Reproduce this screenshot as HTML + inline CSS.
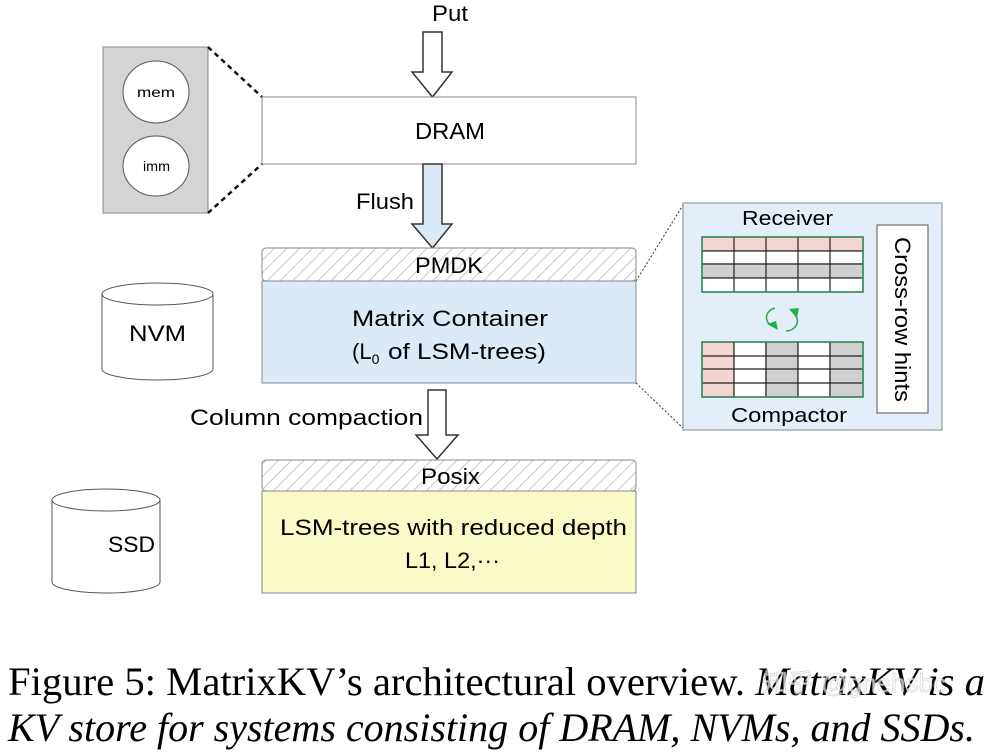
<!DOCTYPE html>
<html><head><meta charset="utf-8"><style>
html,body{margin:0;padding:0;background:#fff;}
svg{display:block;}
</style></head><body>
<svg width="996" height="752" viewBox="0 0 996 752" xmlns="http://www.w3.org/2000/svg" font-family="'Liberation Sans', sans-serif">
<defs>
<pattern id="hatch" patternUnits="userSpaceOnUse" width="9" height="9" patternTransform="rotate(45)">
<rect width="9" height="9" fill="#fff"/>
<line x1="0" y1="0" x2="0" y2="9" stroke="#c8c8c8" stroke-width="2"/>
</pattern>
</defs>
<rect x="103" y="47" width="105" height="166" fill="#d4d4d4" stroke="#888"/>
<ellipse cx="156" cy="92" rx="33" ry="31" fill="#fff" stroke="#555"/>
<text x="137" y="97" font-size="14" textLength="38" lengthAdjust="spacingAndGlyphs">mem</text>
<ellipse cx="156" cy="166" rx="33" ry="30" fill="#fff" stroke="#555"/>
<text x="143" y="171" font-size="14" textLength="27" lengthAdjust="spacingAndGlyphs">imm</text>
<line x1="208" y1="47" x2="262" y2="97" stroke="#111" stroke-width="2.5" stroke-dasharray="5,4"/>
<line x1="208" y1="213" x2="262" y2="164" stroke="#111" stroke-width="2.5" stroke-dasharray="5,4"/>
<text x="432" y="21" font-size="22" textLength="36" lengthAdjust="spacingAndGlyphs">Put</text>
<polygon points="423,32 442,32 442,72 452,72 432.5,97 412,72 423,72" fill="#fff" stroke="#333" stroke-width="1.5"/>
<rect x="262" y="97" width="374" height="67" fill="#fff" stroke="#888"/>
<text x="415" y="139" font-size="23" textLength="70" lengthAdjust="spacingAndGlyphs">DRAM</text>
<text x="356" y="209" font-size="22" textLength="58" lengthAdjust="spacingAndGlyphs">Flush</text>
<polygon points="423,164 442,164 442,224 452,224 432.5,248 412,224 423,224" fill="#dce9f7" stroke="#333" stroke-width="1.5"/>
<rect x="262" y="248" width="374" height="33" rx="4" fill="url(#hatch)" stroke="#888"/>
<text x="415" y="273" font-size="22" textLength="68" lengthAdjust="spacingAndGlyphs">PMDK</text>
<rect x="262" y="281" width="374" height="102" fill="#dce9f7" stroke="#888"/>
<text x="352" y="326" font-size="22" textLength="196" lengthAdjust="spacingAndGlyphs">Matrix Container</text>
<text x="352" y="359" font-size="22">(L<tspan font-size="14" dy="5">0</tspan></text>
<text x="388" y="359" font-size="22" textLength="158" lengthAdjust="spacingAndGlyphs">of LSM-trees)</text>
<line x1="636" y1="281" x2="683" y2="205" stroke="#333" stroke-dasharray="2,2"/>
<line x1="636" y1="383" x2="683" y2="428" stroke="#333" stroke-dasharray="2,2"/>
<path d="M102,294 L102,369 A55.5,11 0 0 0 213,369 L213,294" fill="#fff" stroke="#555"/>
<ellipse cx="157.5" cy="294" rx="55.5" ry="11" fill="#fff" stroke="#555"/>
<text x="129" y="341" font-size="22" textLength="57" lengthAdjust="spacingAndGlyphs">NVM</text>
<text x="190" y="425" font-size="22" textLength="233" lengthAdjust="spacingAndGlyphs">Column compaction</text>
<polygon points="428,390 446,390 446,435 458,435 437,459 416,435 428,435" fill="#fff" stroke="#333" stroke-width="1.5"/>
<rect x="262" y="460" width="374" height="31" rx="4" fill="url(#hatch)" stroke="#888"/>
<text x="421" y="484" font-size="22" textLength="59" lengthAdjust="spacingAndGlyphs">Posix</text>
<rect x="262" y="491" width="374" height="102" fill="#fafac8" stroke="#888"/>
<text x="280" y="535" font-size="22" textLength="347" lengthAdjust="spacingAndGlyphs">LSM-trees with reduced depth</text>
<text x="405" y="568" font-size="22" textLength="95" lengthAdjust="spacingAndGlyphs">L1, L2,···</text>
<path d="M52,500 L52,582 A54,11 0 0 0 160,582 L160,500" fill="#fff" stroke="#555"/>
<ellipse cx="106" cy="500" rx="54" ry="11" fill="#fff" stroke="#555"/>
<text x="108" y="552" font-size="22" textLength="47" lengthAdjust="spacingAndGlyphs">SSD</text>
<rect x="683" y="203" width="259" height="227" fill="#e4eef8" stroke="#888"/>
<text x="742" y="225" font-size="20" textLength="91" lengthAdjust="spacingAndGlyphs">Receiver</text>
<text x="731" y="422" font-size="20" textLength="116" lengthAdjust="spacingAndGlyphs">Compactor</text>
<rect x="877" y="225" width="51" height="188" fill="#fff" stroke="#555"/>
<text x="0" y="0" font-size="22" transform="translate(895,237) rotate(90)" textLength="165" lengthAdjust="spacingAndGlyphs">Cross-row hints</text>
<g stroke="#222" stroke-width="1.2">
<rect x="702" y="237" width="161" height="14" fill="#f3d6d1"/>
<rect x="702" y="251" width="161" height="13" fill="#fff"/>
<rect x="702" y="264" width="161" height="14" fill="#d0d0d0"/>
<rect x="702" y="278" width="161" height="14" fill="#fff"/>
<line x1="734" y1="237" x2="734" y2="292"/><line x1="766" y1="237" x2="766" y2="292"/>
<line x1="798" y1="237" x2="798" y2="292"/><line x1="830" y1="237" x2="830" y2="292"/>
</g>
<rect x="702" y="237" width="161" height="55" fill="none" stroke="#2e8b57" stroke-width="1.5"/>
<g stroke="#222" stroke-width="1.2">
<rect x="702" y="342" width="32" height="55" fill="#f3d6d1"/>
<rect x="734" y="342" width="32" height="55" fill="#fff"/>
<rect x="766" y="342" width="32" height="55" fill="#d0d0d0"/>
<rect x="798" y="342" width="32" height="55" fill="#fff"/>
<rect x="830" y="342" width="33" height="55" fill="#d0d0d0"/>
<line x1="702" y1="356" x2="863" y2="356"/><line x1="702" y1="369" x2="863" y2="369"/><line x1="702" y1="383" x2="863" y2="383"/>
</g>
<rect x="702" y="342" width="161" height="55" fill="none" stroke="#2e8b57" stroke-width="1.5"/>
<path d="M775,308 A12,10 0 0 0 772,326" fill="none" stroke="#22b04b" stroke-width="1.5"/>
<polygon points="767,324 778,330 776,321" fill="#22b04b"/>
<path d="M786,331 A12,10 0 0 0 795,315" fill="none" stroke="#22b04b" stroke-width="1.5"/>
<polygon points="789,309 797,318 799,308" fill="#22b04b"/>
<text x="8" y="695" font-family="'Liberation Serif', serif" font-size="40" textLength="977" lengthAdjust="spacingAndGlyphs">Figure 5: MatrixKV’s architectural overview. <tspan font-style="italic">MatrixKV is a</tspan></text>
<text x="8" y="741" font-family="'Liberation Serif', serif" font-size="40" font-style="italic" textLength="967" lengthAdjust="spacingAndGlyphs">KV store for systems consisting of DRAM, NVMs, and SSDs.</text>
<text x="762" y="692" font-family="'Liberation Sans','Noto Sans CJK SC',sans-serif" font-size="26" fill="#fff" stroke="#ccc" stroke-width="0.8" opacity="0.7">知乎 @gnehsbc</text>
</svg>
</body></html>
